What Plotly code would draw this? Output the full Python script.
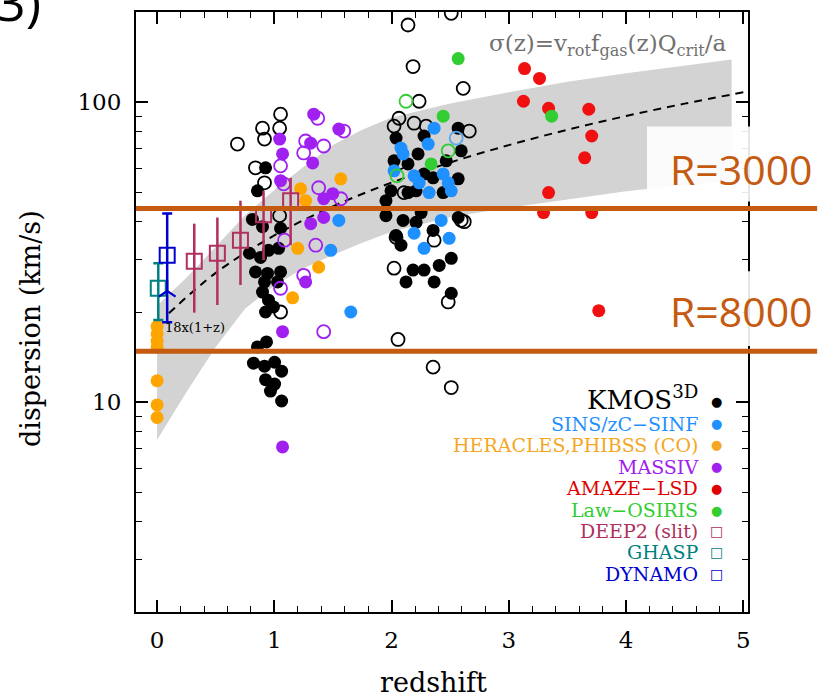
import plotly.graph_objects as go

# ---------------- data ----------------
band_z  = [0.0, 0.25, 0.5, 0.75, 1.0, 1.25, 1.5, 1.75, 2.0, 2.5, 3.0, 3.5, 4.0, 4.5, 4.9]
band_hi = [21, 26, 33, 42, 51, 61, 72, 81, 89, 99, 108, 117, 125, 133, 139]
band_lo = [7.5, 10.8, 15.3, 20.5, 24.5, 28, 31, 34, 37, 41.5, 44.5, 47.5, 50.5, 53, 54.5]

dash_z = [0.1, 0.5, 1.0, 1.5, 2.0, 2.5, 3.0, 3.5, 4.0, 4.5, 5.0]
dash_s = [19.8, 27, 36, 45, 54, 63, 72, 81, 90, 99, 108]

kmos_fill_z = [0.925, 0.856, 0.813, 0.899, 1.053, 0.788, 0.882, 0.950, 1.036, 0.839, 0.942, 1.053,
               0.916, 1.027, 0.899, 0.950, 0.993, 0.925, 0.856, 0.933, 0.822, 0.916, 1.002, 1.062,
               0.925, 1.002, 0.967, 1.062,
               2.038, 2.277, 2.568, 2.226, 2.140, 2.277, 2.354, 2.568, 2.440, 2.140, 2.209, 1.995,
               1.952, 2.098, 2.209, 2.252, 2.038, 2.354, 2.568, 2.509, 2.406, 2.183, 2.277, 2.123,
               2.363, 2.509, 2.021, 2.466, 2.594, 2.080, 1.952]
kmos_fill_s = [60.5, 50.7, 40.7, 38.5, 38.0, 31.4, 30.4, 32.1, 32.6, 27.2, 26.9, 27.2,
               25.2, 25.2, 23.3, 21.9, 20.8, 20.0, 15.3, 15.9, 13.5, 13.2, 13.6, 12.7,
               11.9, 11.5, 10.9, 10.1,
               76.0, 77.2, 82.0, 67.3, 62.3, 57.7, 56.0, 55.6, 50.0, 50.0, 50.7, 50.7,
               41.9, 40.4, 39.8, 42.9, 36.0, 37.4, 41.3, 30.2, 28.6, 27.6, 27.6, 25.2,
               25.2, 23.1, 63.8, 63.8, 68.9, 33.4, 47.0]

kmos_open_z = [1.053, 0.899, 1.045, 0.685, 0.916, 0.839, 0.916, 1.045, 1.053,
               2.140, 2.183, 2.611, 2.235, 2.063, 2.192, 2.021, 2.295, 2.663, 2.509, 2.063,
               2.106, 2.038, 2.363, 2.594, 2.62, 2.021, 2.483, 2.055, 2.354, 2.509]
kmos_open_s = [91.3, 82.0, 82.0, 72.6, 75.4, 60.5, 53.9, 41.9, 20.0,
               181, 131.6, 111.3, 100.8, 88.5, 85.2, 83.3, 83.3, 80.2, 198, 62.8,
               50.0, 35.5, 34.7, 40.4, 40.0, 28.0, 21.6, 16.2, 13.1, 11.2]

sins_z = [1.550, 1.481, 1.652, 2.080, 2.363, 2.312, 2.192, 2.235, 2.320, 2.440, 2.483, 2.509,
          2.423, 2.192, 2.491, 2.277, 2.098, 2.021]
sins_s = [40.4, 32.1, 20.0, 70.4, 82.0, 72.6, 56.9, 53.9, 50.0, 57.7, 53.9, 50.7,
          40.4, 36.6, 35.2, 32.6, 67.3, 59.1]
sins_open_z = [2.551]
sins_open_s = [76.0]

heracles_z = [0.0, 0.0, 0.0, 0.0, 0.0, 0.0, 0.0, 1.224, 1.567, 1.267, 1.199, 1.378, 1.156]
heracles_s = [17.9, 16.9, 16.0, 15.3, 11.8, 9.8, 8.9, 51.5, 55.6, 47.0, 32.6, 28.2, 22.3]

massiv_fill_z = [1.045, 1.070, 1.053, 1.336, 1.550, 1.310, 1.327, 1.421, 1.498, 1.310, 1.421,
                 1.267, 1.070, 1.070]
massiv_fill_s = [75.4, 67.3, 54.8, 91.3, 81.4, 73.1, 62.8, 47.7, 49.6, 39.4, 41.3,
                 25.2, 17.2, 7.1]
massiv_open_z = [1.370, 1.592, 1.267, 1.250, 1.421, 1.053, 1.079, 1.378, 1.567, 1.087, 1.353,
                 1.250, 1.053, 1.421]
massiv_open_s = [88.5, 80.2, 74.3, 67.8, 71.5, 61.4, 53.5, 51.9, 47.7, 34.7, 33.4,
                 26.5, 24.0, 17.2]

amaze_z = [3.134, 3.262, 3.125, 3.339, 3.682, 3.707, 3.647, 3.339, 3.296, 3.707, 3.767]
amaze_s = [129.6, 120.1, 100.8, 95.5, 94.8, 77.2, 65.3, 50.0, 42.9, 42.9, 20.2]

law_fill_z = [2.568, 2.440, 3.365, 2.337]
law_fill_s = [139.9, 89.9, 89.9, 62.3]
law_open_z = [2.123, 2.046, 2.483]
law_open_s = [100.8, 56.9, 68.9]

deep2_z = [0.317, 0.514, 0.711, 0.908, 1.139]
deep2_s = [29.5, 31.4, 34.7, 42.2, 47.0]
deep2_ep = [9.9, 9.9, 12.3, 8.5, 9.0]
deep2_em = [9.6, 10.3, 10.1, 12.4, 13.6]

ghasp_z = [0.01]
ghasp_s = [24.0]
ghasp_ep = [5.1]
ghasp_em = [5.2]

dynamo_z = [0.086]
dynamo_s = [30.9]
dynamo_ep = [11.7]
dynamo_em = [12.4]
dynamo_arrow_s = [23.5]

legend_names = ["KMOS<sup>3D</sup>", "SINS/zC\u2212SINF", "HERACLES,PHIBSS (CO)", "MASSIV",
                "AMAZE\u2212LSD", "Law\u2212OSIRIS", "DEEP2 (slit)", "GHASP", "DYNAMO"]
legend_colors = ["#000000", "#1E90FF", "#F5A623", "#A020F0", "#E00000", "#32CD32",
                 "#B03060", "#008080", "#0000CD"]
legend_symbols = ["\u25CF", "\u25CF", "\u25CF", "\u25CF", "\u25CF", "\u25CF", "\u25A1", "\u25A1", "\u25A1"]

res_labels = ["R=3000", "R=8000"]
res_sigma = [44.3, 14.8]

# ---------------- figure ----------------
SERIF = "DejaVu Serif"
C_BLACK, C_SINS, C_HER, C_MAS, C_AMA, C_LAW, C_DEEP, C_GHA, C_DYN = legend_colors
ORANGE = "#C55A11"

fig = go.Figure()

fig.add_trace(go.Scatter(x=band_z + band_z[::-1], y=band_hi + band_lo[::-1],
                         fill="toself", fillcolor="#D3D3D3", mode="lines",
                         line=dict(width=0), hoverinfo="skip"))
fig.add_trace(go.Scatter(x=dash_z, y=dash_s, mode="lines",
                         line=dict(color="black", width=2, dash="8px,6px", shape="spline")))

def filled(z, s, color, size=13):
    fig.add_trace(go.Scatter(x=z, y=s, mode="markers",
                             marker=dict(color=color, size=size, line=dict(width=0))))

def opened(z, s, color, size=13):
    fig.add_trace(go.Scatter(x=z, y=s, mode="markers",
                             marker=dict(symbol="circle-open", color=color, size=size,
                                         line=dict(width=1.8, color=color))))

opened(kmos_open_z, kmos_open_s, C_BLACK)
filled(kmos_fill_z, kmos_fill_s, C_BLACK)
filled(sins_z, sins_s, C_SINS)
opened(sins_open_z, sins_open_s, "#5AA7EE")
filled(heracles_z, heracles_s, "#FFA500")
opened(massiv_open_z, massiv_open_s, C_MAS)
filled(massiv_fill_z, massiv_fill_s, C_MAS)
filled(amaze_z, amaze_s, "#F01010")
opened(law_open_z, law_open_s, C_LAW)
filled(law_fill_z, law_fill_s, C_LAW)

def squares(z, s, ep, em, color, capw):
    fig.add_trace(go.Scatter(x=z, y=s, mode="markers",
                             marker=dict(symbol="square-open", size=15, color=color,
                                         line=dict(width=2, color=color)),
                             error_y=dict(type="data", symmetric=False, array=ep, arrayminus=em,
                                          color=color, thickness=2.5, width=capw)))

squares(deep2_z, deep2_s, deep2_ep, deep2_em, C_DEEP, 0)
squares(ghasp_z, ghasp_s, ghasp_ep, ghasp_em, C_GHA, 5)
squares(dynamo_z, dynamo_s, dynamo_ep, dynamo_em, C_DYN, 5)
fig.add_trace(go.Scatter(x=dynamo_z, y=dynamo_arrow_s, mode="markers",
                         marker=dict(symbol="y-up-open", size=14, color=C_DYN,
                                     line=dict(width=2.2, color=C_DYN))))

# white boxes behind the resolution labels
shapes = [
    dict(type="rect", xref="paper", yref="paper", x0=0.835, x1=1.131, y0=0.684, y1=0.809,
         fillcolor="rgba(255,255,255,0.9)", line=dict(width=0), layer="above"),
    dict(type="rect", xref="paper", yref="paper", x0=0.835, x1=1.131, y0=0.4435, y1=0.568,
         fillcolor="rgba(255,255,255,0.9)", line=dict(width=0), layer="above"),
]
for sv in res_sigma:
    shapes.append(dict(type="line", xref="paper", yref="y", x0=0, x1=1.113, y0=sv, y1=sv,
                       line=dict(color=ORANGE, width=5), layer="above"))

annotations = [
    dict(text="3)", xref="paper", yref="paper", x=-0.152, y=1.019, xanchor="right",
         yanchor="middle", showarrow=False, font=dict(family="Open Sans", size=52, color="black")),
    dict(text=res_labels[0], xref="paper", yref="paper", x=0.8693, y=0.7389, xanchor="left",
         yanchor="middle", showarrow=False, font=dict(family="Open Sans", size=41, color=ORANGE)),
    dict(text=res_labels[1], xref="paper", yref="paper", x=0.8693, y=0.5017, xanchor="left",
         yanchor="middle", showarrow=False, font=dict(family="Open Sans", size=41, color=ORANGE)),
    dict(text="\u03C3(z)=v<sub>rot</sub>f<sub>gas</sub>(z)Q<sub>crit</sub>/a", xref="paper",
         yref="paper", x=0.969, y=0.9452, xanchor="right", yanchor="middle", showarrow=False,
         font=dict(family=SERIF, size=23, color="#707070")),
    dict(text="18x(1+z)", xref="paper", yref="paper", x=0.0964, y=0.4734, xanchor="center",
         yanchor="middle", showarrow=False, font=dict(family=SERIF, size=13, color="black")),
    dict(text="redshift", xref="paper", yref="paper", x=0.4853, y=-0.118, xanchor="center",
         yanchor="middle", showarrow=False, font=dict(family=SERIF, size=27, color="black")),
    dict(text="dispersion (km/s)", xref="paper", yref="paper", x=-0.1716, y=0.4734,
         xanchor="center", yanchor="middle", textangle=-90, showarrow=False,
         font=dict(family=SERIF, size=27, color="black")),
]

leg_y = [0.3571, 0.3140, 0.2791, 0.2425, 0.2060, 0.1694, 0.1346, 0.0997, 0.0631]
for i, (nm, col, sym) in enumerate(zip(legend_names, legend_colors, legend_symbols)):
    size = 26 if i == 0 else 19
    annotations.append(dict(text=nm, xref="paper", yref="paper", x=0.9216, y=leg_y[i],
                            xanchor="right", yanchor="middle", showarrow=False,
                            font=dict(family=SERIF, size=size, color=col)))
    sy = leg_y[i] - (0.0066 if i == 0 else 0)
    annotations.append(dict(text=sym, xref="paper", yref="paper", x=0.9493, y=sy,
                            xanchor="center", yanchor="middle", showarrow=False,
                            font=dict(family="DejaVu Sans", size=13 if sym == "\u25CF" else 14,
                                      color=col)))

axis_common = dict(showline=True, linecolor="black", linewidth=2, mirror="allticks",
                   ticks="inside", ticklen=12, tickwidth=1.5, tickcolor="black",
                   showgrid=False, zeroline=False,
                   tickfont=dict(family=SERIF, size=23, color="black"))

fig.update_layout(
    width=828, height=699,
    margin=dict(l=136, r=80, t=10, b=87),
    plot_bgcolor="white", paper_bgcolor="white",
    showlegend=False,
    xaxis=dict(range=[-0.18, 5.04], tickvals=[0, 1, 2, 3, 4, 5], ticklabelstandoff=6,
               minor=dict(ticks="inside", ticklen=6, tickwidth=1.2, tickcolor="black",
                          tick0=0, dtick=0.2),
               **axis_common),
    yaxis=dict(type="log", range=[0.30103, 2.30103], tickvals=[10, 100], ticktext=["10", "100"],
               ticklabelstandoff=8,
               minor=dict(ticks="inside", ticklen=6, tickwidth=1.2, tickcolor="black",
                          tickvals=[2, 3, 4, 5, 6, 7, 8, 9, 20, 30, 40, 50, 60, 70, 80, 90, 200]),
               **axis_common),
    shapes=shapes,
    annotations=annotations,
)

fig.write_html("out.html", config={"displayModeBar": False},
               post_script="document.body.style.margin='0px';document.body.style.padding='0px';")
